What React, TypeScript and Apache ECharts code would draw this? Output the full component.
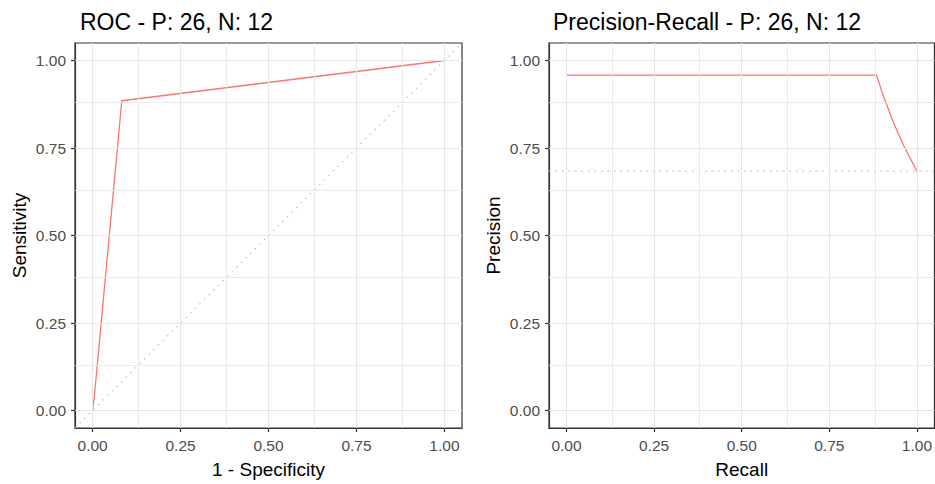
import React, { useEffect, useRef } from "react";
import * as echarts from "echarts";

const rocTitle = "ROC - P: 26, N: 12";
const prTitle = "Precision-Recall - P: 26, N: 12";
const majorTicks = [0, 0.25, 0.5, 0.75, 1];
const minorTicks = [0.125, 0.375, 0.625, 0.875];
const rocFpr = [0, 0.005, 0.083, 1];
const rocTpr = [0, 0.04, 0.885, 1];
const chanceLine = [-0.05, 1.05];
const prRecall = [0, 0.885, 0.904, 0.933, 0.962, 1.0];
const prPrecision = [0.958, 0.958, 0.899, 0.823, 0.757, 0.684];
const prBaseline = 0.684;

const RED = "#F8766D";
const FONT = "Liberation Sans, Arial, sans-serif";

function gridLines() {
  const data: any[] = [];
  majorTicks.forEach((v) => {
    data.push({ xAxis: v, lineStyle: { width: 1.2 } });
    data.push({ yAxis: v, lineStyle: { width: 1.2 } });
  });
  minorTicks.forEach((v) => {
    data.push({ xAxis: v, lineStyle: { width: 0.8 } });
    data.push({ yAxis: v, lineStyle: { width: 0.8 } });
  });
  return {
    silent: true,
    symbol: ["none", "none"],
    label: { show: false },
    lineStyle: { color: "#E6E6E6", type: "solid" },
    data,
  };
}

function axis(name: string, gridIndex: number, isY: boolean) {
  return {
    type: "value",
    gridIndex,
    min: -0.05,
    max: 1.05,
    name,
    nameLocation: "middle",
    nameGap: isY ? 46 : 32,
    nameTextStyle: { color: "#000", fontSize: 19, fontFamily: FONT },
    axisLine: { show: true, onZero: false, lineStyle: { color: "#333333", width: 1.2 } },
    axisTick: {
      show: true,
      inside: false,
      length: 4,
      customValues: majorTicks,
      lineStyle: { color: "#333333", width: 1.2 },
    },
    axisLabel: {
      customValues: majorTicks,
      color: "#4D4D4D",
      fontSize: 15.5,
      fontFamily: FONT,
      margin: 9,
      formatter: (v: number) => v.toFixed(2),
    },
    splitLine: { show: false },
  };
}

export default function App() {
  const ref = useRef<HTMLDivElement>(null);
  useEffect(() => {
    if (!ref.current) return;
    const chart = echarts.init(ref.current, null, { renderer: "svg" });
    const rocPts = rocFpr.map((x, i) => [x, rocTpr[i]]);
    const prPts = prRecall.map((x, i) => [x, prPrecision[i]]);
    chart.setOption({
      animation: false,
      backgroundColor: "#fff",
      title: [
        { text: rocTitle, left: 75, top: 5, textStyle: { fontSize: 23, fontWeight: "normal", color: "#000", fontFamily: FONT } },
        { text: prTitle, left: 548, top: 5, textStyle: { fontSize: 23, fontWeight: "normal", color: "#000", fontFamily: FONT } },
      ],
      grid: [
        { left: 75, top: 43, width: 387, height: 389, show: true, borderColor: "#333333", borderWidth: 1.2, backgroundColor: "#fff" },
        { left: 549, top: 43, width: 386, height: 389, show: true, borderColor: "#333333", borderWidth: 1.2, backgroundColor: "#fff" },
      ],
      xAxis: [axis("1 - Specificity", 0, false), axis("Recall", 1, false)],
      yAxis: [axis("Sensitivity", 0, true), axis("Precision", 1, true)],
      series: [
        { type: "line", xAxisIndex: 0, yAxisIndex: 0, data: [], z: 1, markLine: gridLines() },
        { type: "line", xAxisIndex: 1, yAxisIndex: 1, data: [], z: 1, markLine: gridLines() },
        {
          type: "line", xAxisIndex: 0, yAxisIndex: 0, z: 3,
          data: [[chanceLine[0], chanceLine[0]], [chanceLine[1], chanceLine[1]]],
          showSymbol: false, symbol: "none",
          lineStyle: { color: "#BEBEBE", width: 1.2, type: [1.5, 5] },
        },
        {
          type: "line", xAxisIndex: 1, yAxisIndex: 1, z: 3,
          data: [[chanceLine[0], prBaseline], [chanceLine[1], prBaseline]],
          showSymbol: false, symbol: "none",
          lineStyle: { color: "#BEBEBE", width: 1.2, type: [1.5, 5] },
        },
        {
          type: "line", xAxisIndex: 0, yAxisIndex: 0, z: 4, data: rocPts,
          showSymbol: false, symbol: "none",
          lineStyle: { color: RED, width: 1.3 },
        },
        {
          type: "line", xAxisIndex: 1, yAxisIndex: 1, z: 4, data: prPts,
          showSymbol: false, symbol: "none",
          lineStyle: { color: RED, width: 1.3 },
        },
      ],
    });
    return () => chart.dispose();
  }, []);
  return (
    <div
      ref={ref}
      style={{ position: "fixed", left: 0, top: 0, width: 935, height: 484, background: "#fff" }}
    />
  );
}
